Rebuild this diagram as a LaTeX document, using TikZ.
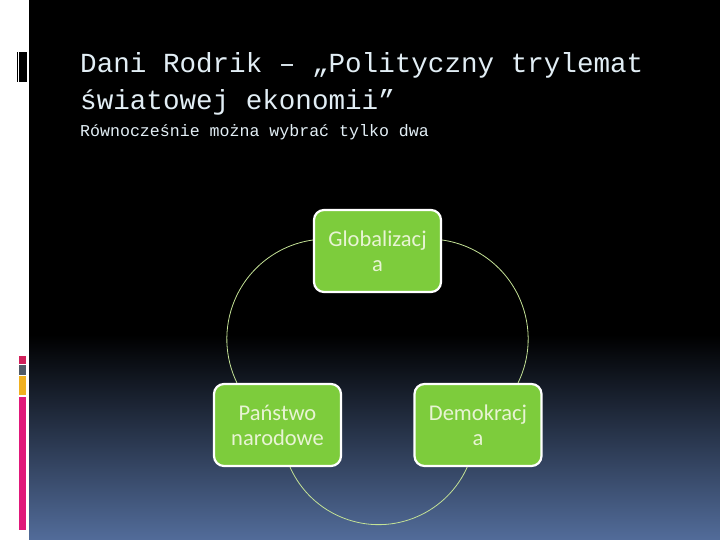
\documentclass[tikz,border=0pt]{standalone}
\usepackage{fontspec}
\setmainfont{Carlito}
\newfontfamily\monofont{Liberation Mono}
\definecolor{boxgreen}{RGB}{125,204,60}
\definecolor{boxtext}{RGB}{232,244,212}
\definecolor{arcgreen}{RGB}{196,226,150}
\definecolor{titlecol}{RGB}{226,238,245}
\definecolor{bottomblue}{RGB}{82,108,154}
\definecolor{mkcrimson}{RGB}{208,32,90}
\definecolor{mkgrey}{RGB}{80,90,102}
\definecolor{mkyellow}{RGB}{240,176,32}
\definecolor{mkmagenta}{RGB}{224,24,122}
\tikzset{
  cyclebox/.style={draw=white, line width=2.2pt, fill=boxgreen, rounded corners=10pt,
    minimum width=127pt, minimum height=82pt, inner sep=0pt, align=center,
    text=boxtext, font=\fontsize{22.5}{25}\selectfont},
  link/.style={draw=arcgreen, line width=0.8pt},
  titletext/.style={text=titlecol, inner sep=0pt, anchor=base west}
}
\begin{document}
\begin{tikzpicture}[x=1pt,y=1pt]
\useasboundingbox (0,0) rectangle (720,540);
% background
\fill[white] (0,0) rectangle (720,540);
\fill[black] (29,0) rectangle (720,540);
\shade[top color=black, bottom color=bottomblue] (29,0) rectangle (720,205);
% left markers
\fill[black] (16.5,458) rectangle (18,488);
\fill[black] (19.3,458) rectangle (26.7,488);
\fill[mkcrimson] (19.3,176) rectangle (26,184);
\fill[mkgrey] (19.3,165) rectangle (26,175);
\fill[mkyellow] (19.3,145) rectangle (26,164);
\fill[mkmagenta] (19.3,10) rectangle (26,143);
% titles
\node[titletext, font=\monofont\fontsize{27.6}{33}\selectfont] (t1) at (80,467) {Dani Rodrik – „Polityczny trylemat};
\node[titletext, font=\monofont\fontsize{27.6}{33}\selectfont] (t2) at (80,430) {światowej ekonomii”};
\node[titletext, font=\monofont\fontsize{16.6}{20}\selectfont] (sub) at (80,403) {Równocześnie można wybrać tylko dwa};
% nodes
\node[cyclebox] (top) at (377.5,289) {Globalizacj\\a};
\node[cyclebox] (left) at (277.5,115) {Państwo\\narodowe};
\node[cyclebox] (right) at (478,115) {Demokracj\\a};
% arcs
\draw[link] ([yshift=11pt]top.west) arc[start angle=98, end angle=206, radius=100pt];
\draw[link] ([yshift=11pt]top.east) arc[start angle=82, end angle=-26, radius=100pt];
\draw[link] ([xshift=12.5pt]left.south) arc[start angle=204, end angle=336, radius=97pt];
\end{tikzpicture}
\end{document}
